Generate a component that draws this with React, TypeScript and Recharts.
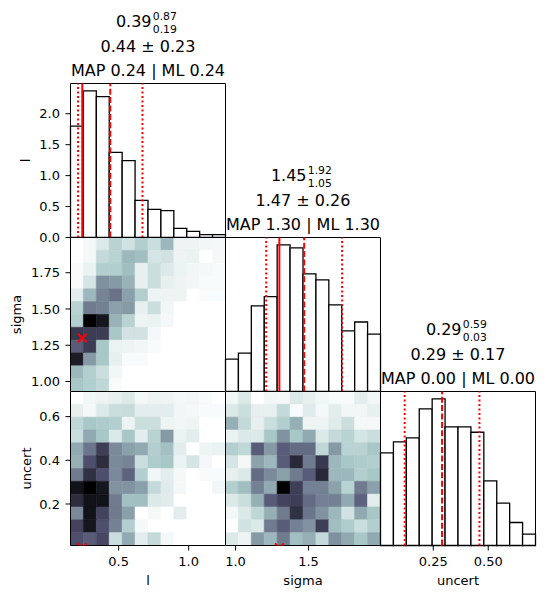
import React from 'react';
import { ComposedChart, XAxis, YAxis, ReferenceArea, ReferenceLine, Scatter } from 'recharts';

const FONT = '"DejaVu Sans", Verdana, sans-serif';

// Axis limits (data ranges) of the three parameters
const lLimits: [number, number] = [0.156, 1.263];
const sigmaLimits: [number, number] = [0.931, 1.993];
const uncertLimits: [number, number] = [0.01, 0.715];

// Marginal densities, 12 equal-width bins spanning each range
const lDensity = [1.8, 2.37, 2.275, 1.376, 1.241, 0.601, 0.456, 0.433, 0.149, 0.1, 0.045, 0.045];
const sigmaDensity = [0.348, 0.412, 0.917, 1.017, 1.572, 1.54, 1.261, 1.196, 0.928, 0.649, 0.745, 0.616];
const uncertDensity = [1.459, 1.632, 1.695, 2.152, 2.309, 1.868, 1.868, 1.783, 1.018, 0.666, 0.362, 0.178];

// Summary statistics, in the order l, sigma, uncert
const medianValues = [0.39, 1.45, 0.29];
const upperValues = [0.87, 1.92, 0.59];
const lowerValues = [0.19, 1.05, 0.03];
const meanValues = [0.44, 1.47, 0.29];
const stdValues = [0.23, 0.26, 0.17];
const mapValues = [0.24, 1.3, 0.0];
const mlValues = [0.24, 1.3, 0.0];

// Joint histograms (relative counts, 0..1), rows listed from the highest y bin down
const lSigmaGrid = [
  [0, 0.03, 0.1, 0.2, 0.13, 0.22, 0.15, 0.3, 0.05, 0.05, 0.04, 0.03],
  [0, 0.03, 0.17, 0.2, 0.3, 0.28, 0.12, 0.13, 0.05, 0.06, 0, 0.03],
  [0.02, 0.06, 0.22, 0.22, 0.28, 0.07, 0.15, 0.1, 0.06, 0.04, 0.03, 0.02],
  [0.02, 0.12, 0.43, 0.4, 0.32, 0.07, 0.15, 0.07, 0.05, 0.04, 0.02, 0.02],
  [0.08, 0.3, 0.47, 0.53, 0.38, 0.22, 0.05, 0.05, 0.05, 0, 0.02, 0.02],
  [0.2, 0.5, 0.48, 0.38, 0.4, 0.07, 0.15, 0.04, 0, 0, 0, 0],
  [0.22, 1, 0.9, 0.32, 0.2, 0.05, 0.06, 0.03, 0, 0, 0, 0],
  [0.75, 0.73, 0.73, 0.25, 0.13, 0.13, 0.03, 0, 0, 0, 0, 0],
  [0.6, 0.73, 0.25, 0.06, 0.05, 0.04, 0.02, 0, 0, 0, 0, 0],
  [0.87, 0.4, 0.25, 0.07, 0.02, 0.02, 0, 0, 0, 0, 0, 0],
  [0.3, 0.22, 0.15, 0.04, 0, 0, 0, 0, 0, 0, 0, 0],
  [0.25, 0.22, 0.18, 0.02, 0, 0, 0, 0, 0, 0, 0, 0],
];

const lUncertGrid = [
  [0, 0.04, 0.05, 0.07, 0.1, 0.03, 0.05, 0.05, 0.03, 0.04, 0.02, 0],
  [0.07, 0.03, 0.1, 0.15, 0.16, 0.08, 0.08, 0.08, 0.04, 0.03, 0.02, 0.02],
  [0.18, 0.25, 0.23, 0.22, 0.05, 0.15, 0.15, 0.05, 0.04, 0.05, 0, 0],
  [0.15, 0.35, 0.25, 0.1, 0.25, 0.08, 0.2, 0.4, 0.06, 0.08, 0, 0],
  [0.35, 0.52, 0.72, 0.45, 0.38, 0.35, 0.22, 0.27, 0.08, 0, 0.05, 0.06],
  [0.33, 0.65, 0.8, 0.45, 0.47, 0.15, 0.23, 0.25, 0.06, 0.12, 0.03, 0],
  [0.5, 0.78, 0.65, 0.45, 0.58, 0.22, 0.04, 0.08, 0.03, 0, 0.02, 0.02],
  [0.92, 1, 0.9, 0.42, 0.42, 0.38, 0.17, 0.09, 0.03, 0, 0, 0.04],
  [0.8, 0.92, 0.92, 0.5, 0.27, 0.28, 0.1, 0.09, 0, 0, 0, 0],
  [0.45, 0.92, 0.7, 0.5, 0.38, 0, 0.03, 0, 0.08, 0, 0, 0],
  [0.7, 0.9, 0.65, 0.48, 0.22, 0.03, 0, 0, 0, 0, 0, 0],
  [0.65, 0.6, 0.68, 0.15, 0.35, 0.08, 0.17, 0.03, 0, 0, 0, 0],
];

const sigmaUncertGrid = [
  [0.04, 0.1, 0, 0.04, 0.03, 0.1, 0.07, 0.04, 0.02, 0.02, 0.08, 0.04],
  [0.1, 0.15, 0.07, 0.07, 0.17, 0.02, 0.09, 0.03, 0.08, 0.04, 0.04, 0.07],
  [0.33, 0.17, 0.07, 0.15, 0.22, 0.33, 0.05, 0.05, 0.09, 0.15, 0.03, 0.03],
  [0.06, 0.1, 0.1, 0.25, 0.42, 0.25, 0.35, 0.1, 0.17, 0.2, 0.12, 0.15],
  [0.22, 0.18, 0.6, 0.4, 0.6, 0.55, 0.55, 0.18, 0.4, 0.2, 0.2, 0.25],
  [0.12, 0.03, 0.37, 0.3, 0.6, 0.82, 0.5, 0.75, 0.3, 0.25, 0.23, 0.22],
  [0.07, 0.1, 0.55, 0.45, 0.38, 0.5, 0.6, 0.82, 0.3, 0.3, 0.22, 0.25],
  [0.22, 0.28, 0.48, 0.35, 1, 0.72, 0.48, 0.48, 0.37, 0.2, 0.5, 0.38],
  [0.1, 0.15, 0.33, 0.6, 0.7, 0.72, 0.55, 0.48, 0.48, 0.35, 0.58, 0.08],
  [0.03, 0.1, 0.18, 0.33, 0.5, 0.78, 0.52, 0.42, 0.3, 0.13, 0.35, 0.25],
  [0, 0.13, 0.1, 0.5, 0.6, 0.48, 0.42, 0.72, 0.28, 0.23, 0.15, 0.22],
  [0.1, 0.05, 0.4, 0.3, 0.5, 0.28, 0.33, 0.17, 0.43, 0.35, 0.25, 0.35],
];

// Tick values
const densityTicks = [0, 0.5, 1, 1.5, 2];
const lTicks = [0.5, 1.0];
const sigmaXTicks = [1.0, 1.5];
const sigmaYTicks = [1.0, 1.25, 1.5, 1.75];
const uncertXTicks = [0.25, 0.5];
const uncertYTicks = [0.2, 0.4, 0.6];

// Grid geometry
const COL_X = [70, 225, 380];
const ROW_Y = [83, 237, 391];
const PW = 155;
const PH = 154;
const Y_AXIS_W = 70;
const X_AXIS_H = 52;

// Reversed "bone" colormap: 0 -> white, 1 -> black
function boneR(v: number): string {
  const t = 1 - Math.max(0, Math.min(1, v));
  const r = t < 0.746032 ? (0.652778 * t) / 0.746032 : 0.652778 + ((t - 0.746032) / 0.253968) * 0.347222;
  const g =
    t < 0.365079
      ? (0.319444 * t) / 0.365079
      : t < 0.746032
      ? 0.319444 + ((t - 0.365079) / 0.380953) * 0.458334
      : 0.777778 + ((t - 0.746032) / 0.253968) * 0.222222;
  const b = t < 0.365079 ? (0.444444 * t) / 0.365079 : 0.444444 + ((t - 0.365079) / 0.634921) * 0.555556;
  const h = (x: number) => Math.round(Math.max(0, Math.min(1, x)) * 255).toString(16).padStart(2, '0');
  return `#${h(r)}${h(g)}${h(b)}`;
}

const fmt1 = (v: number) => v.toFixed(1);
const fmt2 = (v: number) => v.toFixed(2);

function gridCells(grid: number[][], xLim: [number, number], yLim: [number, number], key: string) {
  const ny = grid.length;
  const nx = grid[0].length;
  const dx = (xLim[1] - xLim[0]) / nx;
  const dy = (yLim[1] - yLim[0]) / ny;
  return grid.flatMap((rowVals, i) =>
    rowVals.map((v, j) => {
      const yb = ny - 1 - i;
      const c = boneR(v);
      return (
        <ReferenceArea
          key={`${key}-${i}-${j}`}
          x1={xLim[0] + j * dx}
          x2={xLim[0] + (j + 1) * dx}
          y1={yLim[0] + yb * dy}
          y2={yLim[0] + (yb + 1) * dy}
          fill={c}
          fillOpacity={1}
          stroke={c}
          strokeWidth={0.6}
          ifOverflow="visible"
        />
      );
    })
  );
}

function histBars(dens: number[], lim: [number, number], key: string) {
  const w = (lim[1] - lim[0]) / dens.length;
  return dens.map((d, i) => (
    <ReferenceArea
      key={`${key}-${i}`}
      x1={lim[0] + i * w}
      x2={lim[0] + (i + 1) * w}
      y1={0}
      y2={d}
      fill="#ffffff"
      fillOpacity={1}
      stroke="#000000"
      strokeWidth={1.3}
      ifOverflow="visible"
    />
  ));
}

function statLines(i: number, key: string) {
  const m = meanValues[i];
  const s = stdValues[i];
  return [
    <ReferenceLine key={`${key}-lo`} x={m - s} stroke="#ff0000" strokeWidth={2} strokeDasharray="2 2.5" />,
    <ReferenceLine key={`${key}-hi`} x={m + s} stroke="#ff0000" strokeWidth={2} strokeDasharray="2 2.5" />,
    <ReferenceLine key={`${key}-mean`} x={m} stroke="#ff0000" strokeWidth={2} strokeDasharray="6 2.4" />,
    <ReferenceLine key={`${key}-map`} x={mapValues[i]} stroke="#ff0000" strokeWidth={2} />,
  ];
}

const CrossMark = (p: any) => {
  const { cx, cy } = p;
  if (cx == null || cy == null) return <g />;
  const r = 4.3;
  return (
    <path
      d={`M${cx - r},${cy - r}L${cx + r},${cy + r}M${cx + r},${cy - r}L${cx - r},${cy + r}`}
      stroke="#ff0000"
      strokeWidth={2}
      fill="none"
    />
  );
};

function mapMarker(xi: number, yi: number, key: string) {
  return (
    <Scatter
      key={key}
      data={[{ x: mapValues[xi], y: mapValues[yi] }]}
      dataKey="y"
      shape={CrossMark}
      isAnimationActive={false}
    />
  );
}

const AxisTitleX = (p: any) => (
  <text x={p.px} y={p.py} textAnchor="middle" fontSize={13} fontFamily={FONT} fill="#000">
    {p.text}
  </text>
);

const AxisTitleY = (p: any) => (
  <text
    x={p.px}
    y={p.py}
    transform={`rotate(-90 ${p.px} ${p.py})`}
    textAnchor="middle"
    fontSize={13}
    fontFamily={FONT}
    fill="#000"
  >
    {p.text}
  </text>
);

type AxisSpec = { ticks: number[]; format: (v: number) => string; label: string; labelPos?: number };

function Panel(props: {
  row: number;
  col: number;
  xLim: [number, number];
  yLim: [number, number];
  xAxis?: AxisSpec;
  yAxis?: AxisSpec;
  children?: React.ReactNode;
}) {
  const { row, col, xLim, yLim, xAxis, yAxis, children } = props;
  const axisW = yAxis ? Y_AXIS_W : 0;
  const axisH = xAxis ? X_AXIS_H : 0;
  const margin = { top: 2.5, right: 3, bottom: xAxis ? 0 : 9, left: 2.5 };
  const width = margin.left + axisW + PW + margin.right;
  const height = margin.top + PH + axisH + margin.bottom;
  const plotLeft = margin.left + axisW;
  const plotTop = margin.top;
  const plotBottom = plotTop + PH;
  const tickStyle = { fill: '#000', fontSize: 13, fontFamily: FONT };
  return (
    <div style={{ position: 'absolute', left: COL_X[col] - 2 - axisW, top: ROW_Y[row] - 2 }}>
      <ComposedChart width={width} height={height} margin={margin}>
        <XAxis
          type="number"
          dataKey="x"
          domain={xLim}
          allowDataOverflow
          hide={!xAxis}
          height={axisH || 30}
          ticks={xAxis ? xAxis.ticks : undefined}
          tickFormatter={xAxis ? xAxis.format : undefined}
          interval={0}
          tickSize={5}
          tickMargin={6}
          axisLine={false}
          tickLine={{ stroke: '#000', strokeWidth: 1 }}
          tick={tickStyle}
          label={
            xAxis ? <AxisTitleX px={plotLeft + PW / 2} py={plotBottom + 39.5} text={xAxis.label} /> : undefined
          }
        />
        <YAxis
          type="number"
          dataKey="y"
          domain={yLim}
          allowDataOverflow
          hide={!yAxis}
          width={axisW || 60}
          ticks={yAxis ? yAxis.ticks : undefined}
          tickFormatter={yAxis ? yAxis.format : undefined}
          interval={0}
          tickSize={5}
          tickMargin={5.5}
          axisLine={false}
          tickLine={{ stroke: '#000', strokeWidth: 1 }}
          tick={tickStyle}
          label={
            yAxis ? (
              <AxisTitleY px={margin.left + (yAxis.labelPos ?? 29.5)} py={plotTop + PH / 2} text={yAxis.label} />
            ) : undefined
          }
        />
        {children}
        <ReferenceArea
          x1={xLim[0]}
          x2={xLim[1]}
          y1={yLim[0]}
          y2={yLim[1]}
          fill="none"
          fillOpacity={0}
          stroke="#000"
          strokeWidth={1}
          ifOverflow="visible"
        />
      </ComposedChart>
    </div>
  );
}

function Titles() {
  const lines = [0, 1, 2].map((i) => {
    const cx = COL_X[i] + 0.5 + PW / 2;
    const top = ROW_Y[i] + 0.5;
    const y1 = top - 56.5;
    return (
      <g key={i} fontFamily={FONT} fill="#000">
        <text x={cx + 3.5} y={y1} textAnchor="end" fontSize={16}>
          {medianValues[i].toFixed(2)}
        </text>
        <text x={cx + 4.8} y={y1 - 7.2} textAnchor="start" fontSize={10.8}>
          {upperValues[i].toFixed(2)}
        </text>
        <text x={cx + 4.8} y={y1 + 5.8} textAnchor="start" fontSize={10.8}>
          {lowerValues[i].toFixed(2)}
        </text>
        <text x={cx} y={top - 31.3} textAnchor="middle" fontSize={16}>
          {`${meanValues[i].toFixed(2)} \u00b1 ${stdValues[i].toFixed(2)}`}
        </text>
        <text x={cx} y={top - 7.8} textAnchor="middle" fontSize={16}>
          {`MAP ${mapValues[i].toFixed(2)} | ML ${mlValues[i].toFixed(2)}`}
        </text>
      </g>
    );
  });
  return (
    <svg width={548} height={598} style={{ position: 'absolute', left: 0, top: 0, pointerEvents: 'none' }}>
      {lines}
    </svg>
  );
}

export default function App() {
  const lMax = Math.max(...lDensity) * 1.05;
  const sMax = Math.max(...sigmaDensity) * 1.05;
  const uMax = Math.max(...uncertDensity) * 1.05;
  return (
    <div
      style={{
        position: 'absolute',
        left: 0,
        top: 0,
        width: 548,
        height: 598,
        background: '#fff',
        overflow: 'hidden',
      }}
    >
      {/* row 1: l marginal */}
      <Panel
        row={0}
        col={0}
        xLim={lLimits}
        yLim={[0, lMax]}
        yAxis={{ ticks: densityTicks, format: fmt1, label: 'l', labelPos: 29.5 }}
      >
        {histBars(lDensity, lLimits, 'lh')}
        {statLines(0, 'ls')}
      </Panel>

      {/* row 2: sigma vs l, sigma marginal */}
      <Panel
        row={1}
        col={0}
        xLim={lLimits}
        yLim={sigmaLimits}
        yAxis={{ ticks: sigmaYTicks, format: fmt2, label: 'sigma', labelPos: 20 }}
      >
        {gridCells(lSigmaGrid, lLimits, sigmaLimits, 'ls')}
        {mapMarker(0, 1, 'ls-map')}
      </Panel>
      <Panel row={1} col={1} xLim={sigmaLimits} yLim={[0, sMax]}>
        {histBars(sigmaDensity, sigmaLimits, 'sh')}
        {statLines(1, 'ss')}
      </Panel>

      {/* row 3: uncert vs l, uncert vs sigma, uncert marginal */}
      <Panel
        row={2}
        col={0}
        xLim={lLimits}
        yLim={uncertLimits}
        xAxis={{ ticks: lTicks, format: fmt1, label: 'l' }}
        yAxis={{ ticks: uncertYTicks, format: fmt1, label: 'uncert', labelPos: 30 }}
      >
        {gridCells(lUncertGrid, lLimits, uncertLimits, 'lu')}
        {mapMarker(0, 2, 'lu-map')}
      </Panel>
      <Panel
        row={2}
        col={1}
        xLim={sigmaLimits}
        yLim={uncertLimits}
        xAxis={{ ticks: sigmaXTicks, format: fmt1, label: 'sigma' }}
      >
        {gridCells(sigmaUncertGrid, sigmaLimits, uncertLimits, 'su')}
        {mapMarker(1, 2, 'su-map')}
      </Panel>
      <Panel
        row={2}
        col={2}
        xLim={uncertLimits}
        yLim={[0, uMax]}
        xAxis={{ ticks: uncertXTicks, format: fmt2, label: 'uncert' }}
      >
        {histBars(uncertDensity, uncertLimits, 'uh')}
        {statLines(2, 'us')}
      </Panel>

      <Titles />
    </div>
  );
}
